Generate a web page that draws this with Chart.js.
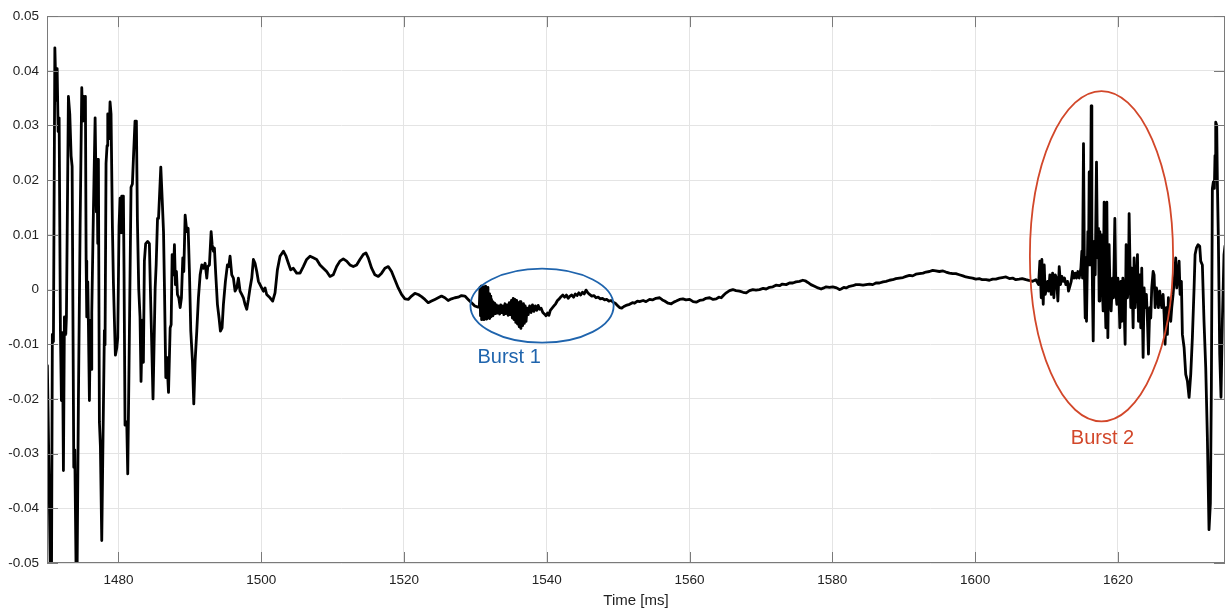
<!DOCTYPE html>
<html>
<head>
<meta charset="utf-8">
<script src="https://cdn.jsdelivr.net/npm/chart.js@4.4.1/dist/chart.umd.min.js"></script>
<style>
html,body{margin:0;padding:0;background:#fff;}
canvas{display:block;}
</style>
</head>
<body>
<canvas id="c" width="1225" height="614"></canvas>
<script>
// ---------- DATA ----------
// Segment 1: ring-down at the start
const ringTimes = [1470.05,1470.3,1470.5,1470.62,1470.75,1470.9,1471.1,1471.28,1471.42,1471.56,1471.7,1471.88,1472.02,1472.16,1472.3,1472.44,1472.63,1472.72,1473.0,1473.19,1473.38,1473.52,1473.75,1473.89,1474.08,1474.22,1474.4,1474.64,1474.87,1475.0,1475.15,1475.29,1475.38,1475.48,1475.57,1475.71,1475.8,1475.94,1476.08,1476.18,1476.27,1476.5,1476.74,1476.92,1477.01,1477.11,1477.2,1477.34,1477.48,1477.67,1477.85,1478.04,1478.13,1478.27,1478.41,1478.51,1478.69,1478.83,1478.97,1479.16,1479.3,1479.44,1479.58,1479.77,1479.91,1480.09,1480.23,1480.37,1480.47,1480.7,1480.79,1480.93,1481.17,1481.31,1481.49,1481.77,1481.96,1482.1,1482.33,1482.52,1482.66,1482.85,1483.03,1483.17,1483.36,1483.5,1483.64,1483.82,1484.1,1484.34,1484.48,1484.66,1484.85];
const ringValues = [-0.0139,-0.035,-0.056,-0.056,-0.0082,-0.0095,0.0442,0.0346,0.0404,0.0289,0.0314,-0.0075,-0.0203,-0.0079,-0.0331,-0.005,-0.0082,-0.005,0.0353,0.0321,0.0244,0.0225,-0.0325,-0.0293,-0.0523,-0.051,-0.0203,0.0116,0.0369,0.0308,0.0353,0.0308,0.0353,0.0052,-0.005,0.0014,-0.0063,-0.0203,-0.0056,-0.0146,-0.0043,0.0142,0.0314,0.0142,0.0238,0.0084,0.0238,-0.0242,-0.0286,-0.0459,-0.0267,-0.0075,-0.0101,0.0231,0.0263,0.0321,0.0276,0.0343,0.0321,0.0116,0.0014,-0.0056,-0.012,-0.0107,-0.0088,0.0116,0.0167,0.0104,0.0171,0.0171,0.0033,-0.0248,-0.0242,-0.0337,-0.0139,0.0187,0.0193,0.0238,0.0308,0.0308,0.0129,0.0001,-0.005,-0.0168,-0.0056,-0.0133,0.0052,0.0084,0.0088,0.0084,0.0001,-0.0095,-0.020];

// Segment 2: decaying oscillation and slow plateau
const calmTimes = [1485.15,1485.29,1485.48,1485.62,1485.94,1486.13,1486.32,1486.46,1486.64,1486.78,1487.02,1487.25,1487.39,1487.53,1487.71,1487.85,1487.99,1488.13,1488.27,1488.46,1488.65,1488.83,1489.02,1489.16,1489.35,1489.58,1489.77,1489.95,1490.14,1490.37,1490.56,1490.75,1490.98,1491.21,1491.45,1491.68,1491.91,1492.15,1492.38,1492.52,1492.75,1492.99,1493.13,1493.31,1493.45,1493.64,1493.87,1494.1,1494.29,1494.52,1494.71,1494.99,1495.27,1495.46,1495.64,1495.88,1496.11,1496.34,1496.58,1496.81,1497.04,1497.28,1497.51,1497.74,1497.98,1498.21,1498.44,1498.68,1498.91,1499.14,1499.38,1499.61,1499.84,1500.07,1500.31,1500.54,1500.77,1501.24,1501.61,1501.94,1502.27,1502.64,1503.11,1503.48,1503.81,1504.13,1504.5,1504.97,1505.44,1505.9,1506.37,1506.84,1507.3,1507.77,1508.24,1508.7,1509.17,1509.64,1510.1,1510.57,1511.03,1511.5,1511.97,1512.43,1512.9,1513.37,1513.83,1514.3,1514.67,1515.0,1515.47,1515.93,1516.4,1516.87,1517.33,1517.8,1518.26,1518.73,1519.2,1519.66,1520.13,1520.6,1521.06,1521.53,1522.0,1522.46,1522.93,1523.4,1523.86,1524.33,1524.79,1525.26,1525.73,1526.19,1526.66,1527.13,1527.59,1528.06,1528.53,1528.99,1529.46,1529.92,1530.39];
const calmValues = [0.0003,0.0045,0.0130,0.0130,0.0224,0.0167,0.0106,-0.0003,-0.0161,-0.0124,-0.0188,-0.0070,-0.0064,0.0064,0.0027,0.0082,0.0009,0.0033,-0.0009,-0.0015,-0.0033,-0.0015,0.0058,0.0033,0.0136,0.0106,0.0112,0.0033,-0.0076,-0.0130,-0.0209,-0.0130,-0.0076,-0.0015,0.0027,0.0045,0.0039,0.0048,0.0021,0.0042,0.0045,0.0106,0.0082,0.0070,0.0076,0.0027,-0.0027,-0.0052,-0.0076,-0.0070,-0.0027,0.0015,0.0045,0.0042,0.0061,0.0027,0.0021,-0.0003,0.0003,0.0021,-0.0003,-0.0009,-0.0015,-0.0027,-0.0036,-0.0018,0.0003,0.0021,0.0055,0.0048,0.0033,0.0015,0.0009,0.0003,-0.0003,0.0003,-0.0009,-0.0015,-0.0021,-0.0006,0.0036,0.0061,0.0070,0.0061,0.0048,0.0036,0.0039,0.0030,0.0030,0.0042,0.0055,0.0061,0.0058,0.0055,0.0045,0.0039,0.0033,0.0024,0.0027,0.0042,0.0052,0.0056,0.0052,0.0045,0.0042,0.0045,0.0055,0.0064,0.0067,0.0058,0.0039,0.0027,0.0024,0.0030,0.0039,0.0042,0.0033,0.0018,0.0003,-0.0009,-0.0017,-0.0018,-0.0012,-0.0007,-0.0009,-0.0013,-0.0018,-0.0024,-0.0021,-0.0018,-0.0015,-0.0012,-0.0015,-0.0020,-0.0017,-0.0015,-0.0014,-0.0011,-0.0012,-0.0018,-0.0024,-0.0030,-0.0032];

// Segment 3: Burst 1
const burst1Times = [1530.55,1530.65,1530.72,1530.8,1530.88,1530.96,1531.04,1531.12,1531.2,1531.28,1531.36,1531.44,1531.52,1531.6,1531.68,1531.76,1531.84,1531.92,1532.0,1532.08,1532.16,1532.26,1532.36,1532.46,1532.58,1532.7,1532.82,1532.95,1533.1,1533.25,1533.4,1533.55,1533.7,1533.85,1534.0,1534.15,1534.3,1534.45,1534.6,1534.75,1534.9,1535.05,1535.18,1535.3,1535.42,1535.54,1535.66,1535.78,1535.9,1536.02,1536.14,1536.26,1536.38,1536.5,1536.62,1536.74,1536.86,1536.98,1537.1,1537.25,1537.4,1537.6,1537.8,1538.0,1538.2,1538.4,1538.6,1538.8,1539.0,1539.2,1539.45,1539.7,1539.9,1540.1,1540.3,1540.5,1540.75,1541.0,1541.25,1541.5,1541.75,1542.0,1542.25,1542.5,1542.75,1543.0,1543.25,1543.5,1543.75,1544.0,1544.25,1544.5,1544.75,1545.0,1545.25,1545.5,1545.75,1546.0,1546.3,1546.6,1546.9,1547.2,1547.5,1547.8,1548.1,1548.4,1548.7,1549.0,1549.3,1549.6,1549.9,1550.2,1550.5,1550.8,1551.1];
const burst1Values = [-0.0032,0.0004,-0.0048,0.0006,-0.0055,-0.0002,-0.0052,0.0005,-0.0055,0.0002,-0.0050,0.0006,-0.0054,-0.0004,-0.0052,0.0004,-0.0050,-0.0008,-0.0053,-0.0012,-0.0050,-0.0018,-0.0048,-0.0022,-0.0045,-0.0025,-0.0044,-0.0028,-0.0043,-0.0030,-0.0045,-0.0028,-0.0042,-0.0030,-0.0046,-0.0026,-0.0044,-0.0028,-0.0047,-0.0024,-0.0046,-0.0020,-0.0052,-0.0016,-0.0055,-0.0018,-0.0060,-0.0020,-0.0063,-0.0024,-0.0068,-0.0022,-0.0071,-0.0028,-0.0066,-0.0026,-0.0062,-0.0030,-0.0058,-0.0034,-0.0046,-0.0030,-0.0042,-0.0028,-0.0040,-0.0030,-0.0038,-0.0029,-0.0036,-0.0034,-0.0042,-0.0045,-0.0048,-0.0043,-0.0047,-0.0038,-0.0034,-0.0030,-0.0026,-0.0020,-0.0017,-0.0013,-0.0010,-0.0014,-0.0010,-0.0016,-0.0012,-0.0010,-0.0014,-0.0008,-0.0011,-0.0006,-0.0010,-0.0005,-0.0008,-0.0001,-0.0006,-0.0009,-0.0012,-0.0011,-0.0015,-0.0014,-0.0017,-0.0016,-0.0019,-0.0018,-0.0021,-0.0020,-0.0023,-0.0025,-0.0029,-0.0033,-0.0034,-0.0031,-0.0029];

// Segment 4: slow drift between the bursts
const driftTimes = [1551.6,1552.0,1552.3,1552.7,1553.0,1553.5,1553.9,1554.4,1554.8,1555.3,1555.81,1556.2,1556.51,1557.0,1557.44,1557.8,1558.14,1558.6,1559.07,1559.5,1560.01,1560.5,1560.94,1561.4,1561.87,1562.3,1562.81,1563.3,1563.74,1564.1,1564.44,1564.8,1565.14,1565.6,1566.07,1566.5,1567.0,1567.5,1567.94,1568.4,1568.87,1569.3,1569.8,1570.3,1570.74,1571.2,1571.67,1572.1,1572.6,1573.0,1573.53,1574.0,1574.47,1574.9,1575.4,1575.87,1576.2,1576.57,1577.0,1577.5,1578.0,1578.43,1578.8,1579.13,1579.6,1580.06,1580.6,1581.0,1581.23,1581.6,1581.93,1582.4,1582.86,1583.3,1583.8,1584.3,1584.73,1585.2,1585.66,1586.1,1586.6,1587.1,1587.53,1588.0,1588.46,1588.9,1589.39,1589.9,1590.33,1590.8,1591.26,1591.7,1592.19,1592.7,1593.12,1593.6,1594.06,1594.5,1594.99,1595.5,1595.92,1596.4,1596.86,1597.3,1597.79,1598.3,1598.72,1599.2,1599.65,1600.1,1600.59,1601.0,1601.52,1602.0,1602.45,1602.9,1603.38,1603.8,1604.32,1604.8,1605.25,1605.7,1606.18,1606.6,1607.12,1607.5,1608.05,1608.51,1608.89];
const driftValues = [-0.0027,-0.0024,-0.0025,-0.0021,-0.0022,-0.0020,-0.0022,-0.0018,-0.0019,-0.0016,-0.0015,-0.0019,-0.0021,-0.0025,-0.0026,-0.0023,-0.0021,-0.0018,-0.0017,-0.0019,-0.0018,-0.0022,-0.0023,-0.0020,-0.0019,-0.0016,-0.0015,-0.0018,-0.0017,-0.0014,-0.0015,-0.0010,-0.0006,-0.0002,0.0000,-0.0002,-0.0003,-0.0005,-0.0006,-0.0002,0.0000,-0.0001,0.0000,0.0002,0.0001,0.0004,0.0005,0.0008,0.0007,0.0010,0.0009,0.0012,0.0012,0.0014,0.0015,0.0017,0.0016,0.0013,0.0009,0.0006,0.0003,0.0001,0.0003,0.0005,0.0004,0.0005,0.0003,0.0000,0.0001,0.0004,0.0003,0.0006,0.0007,0.0009,0.0009,0.0008,0.0009,0.0010,0.0009,0.0012,0.0012,0.0014,0.0015,0.0017,0.0018,0.0020,0.0021,0.0022,0.0024,0.0026,0.0025,0.0028,0.0029,0.0030,0.0032,0.0033,0.0035,0.0034,0.0033,0.0034,0.0032,0.0030,0.0029,0.0029,0.0027,0.0025,0.0023,0.0022,0.0021,0.0019,0.0020,0.0018,0.0018,0.0017,0.0019,0.0019,0.0021,0.0022,0.0023,0.0020,0.0021,0.0018,0.0019,0.0020,0.0018,0.0017,0.0015,0.0018,0.0009];

// Segment 5: Burst 2
const burst2Times = [1609.07,1609.26,1609.35,1609.54,1609.68,1609.82,1610.01,1610.15,1610.29,1610.47,1610.66,1610.85,1611.03,1611.22,1611.4,1611.59,1611.78,1611.96,1612.15,1612.34,1612.52,1612.71,1612.94,1613.08,1613.27,1613.46,1613.64,1613.83,1614.02,1614.2,1614.39,1614.58,1614.81,1614.95,1615.04,1615.18,1615.32,1615.42,1615.51,1615.6,1615.79,1615.88,1615.98,1616.12,1616.26,1616.35,1616.44,1616.54,1616.68,1616.82,1617.0,1617.14,1617.28,1617.37,1617.47,1617.61,1617.75,1617.84,1617.93,1618.07,1618.21,1618.31,1618.45,1618.59,1618.68,1618.77,1618.91,1619.05,1619.24,1619.38,1619.57,1619.71,1619.85,1619.99,1620.13,1620.27,1620.41,1620.55,1620.69,1620.83,1621.01,1621.15,1621.34,1621.48,1621.57,1621.8,1621.94,1622.13,1622.27,1622.41,1622.6,1622.74,1622.88,1623.06,1623.2,1623.34,1623.53,1623.67,1623.81,1623.99,1624.14,1624.28,1624.46,1624.6,1624.74,1624.93,1625.07,1625.21,1625.4,1625.53,1625.67,1625.86,1626.0,1626.14,1626.33,1626.47,1626.61,1626.79,1626.93,1627.07,1627.26,1627.4,1627.54,1627.73,1627.91,1628.1,1628.24,1628.38,1628.57,1628.71,1628.89];
const burst2Values = [0.0052,-0.0015,0.0055,-0.0027,0.0045,-0.0009,0.0003,0.0015,-0.0003,0.0027,-0.0009,0.0030,-0.0015,0.0027,0.0021,-0.0021,0.0042,0.0009,0.0024,0.0015,0.0021,0.0009,0.0015,-0.0003,0.0006,0.0015,0.0033,0.0021,0.0030,0.0021,0.0033,0.0021,0.0039,0.0070,0.0021,0.0267,0.0015,-0.0052,0.0058,-0.0058,0.0106,0.0045,0.0215,0.0045,0.0336,0.0106,-0.0003,-0.0094,0.0088,0.0027,0.0233,0.0058,0.0112,-0.0021,0.0106,0.0033,0.0100,-0.0003,-0.0039,0.0160,-0.0015,-0.0070,0.0160,-0.0088,0.0009,0.0082,-0.0015,-0.0039,0.0021,-0.0015,0.0130,-0.0003,-0.0027,0.0021,-0.0003,-0.0070,0.0015,-0.0058,0.0021,-0.0015,-0.0100,0.0082,-0.0015,0.0009,0.0139,-0.0033,0.0039,-0.0070,0.0058,-0.0033,0.0015,0.0064,-0.0058,0.0027,-0.0070,0.0039,-0.0124,0.0003,-0.0033,-0.0009,-0.0058,-0.0118,-0.0033,-0.0052,0.0003,0.0033,0.0027,-0.0033,0.0003,-0.0009,-0.0033,-0.0003,-0.0021,-0.0033,-0.0009,-0.0045,-0.0100,-0.0033,-0.0082,-0.0015,-0.0045,-0.0058,-0.0033,-0.0009,0.0021,0.0058,0.0003,0.0021,0.0052,-0.0009,0.0015];

// Segment 6: large oscillation at the end
const tailTimes = [1629.03,1629.27,1629.5,1629.73,1629.97,1630.2,1630.43,1630.67,1630.81,1631.0,1631.23,1631.46,1631.6,1631.83,1632.06,1632.3,1632.53,1632.76,1632.95,1633.09,1633.23,1633.37,1633.51,1633.6,1633.7,1633.84,1633.93,1634.07,1634.26,1634.44,1634.63,1634.86,1635.0];
const tailValues = [-0.0082,-0.0106,-0.0155,-0.0167,-0.0197,-0.0155,-0.0088,0.0003,0.0064,0.0076,0.0082,0.0079,0.0052,0.0045,-0.0058,-0.0142,-0.0270,-0.0439,-0.0391,-0.0179,0.0185,0.0197,0.0185,0.0245,0.0306,0.0300,0.0197,0.0094,-0.0118,-0.0197,-0.0058,0.0064,0.0080];

// Axis ticks
const xTickValues = [1480,1500,1520,1540,1560,1580,1600,1620];
const yTickValues = [-0.05,-0.04,-0.03,-0.02,-0.01,0,0.01,0.02,0.03,0.04,0.05];
const yTickLabels = ['-0.05','-0.04','-0.03','-0.02','-0.01','0','0.01','0.02','0.03','0.04','0.05'];

// Annotations (in data coordinates)
const burstNotes = [
  {label:'Burst 1', cx:1539.34, cy:-0.00295, rx:10.03, ry:0.00676, tx:1534.73, ty:-0.0125, color:'#1f64ad'},
  {label:'Burst 2', cx:1617.7, cy:0.0061, rx:10.03, ry:0.0302, tx:1617.84, ty:-0.0273, color:'#d2472a'}
];

// ---------- BUILD ----------
const allTimes = [].concat(ringTimes, calmTimes, burst1Times, driftTimes, burst2Times, tailTimes);
const allValues = [].concat(ringValues, calmValues, burst1Values, driftValues, burst2Values, tailValues);
const points = allTimes.map((t,i)=>({x:t, y:allValues[i]}));

const frameColor = '#7a7a7a';
const boxPlugin = {
  id:'matlabBox',
  afterDatasetsDraw(chart){
    const {ctx, chartArea:a, scales:{x,y}} = chart;
    ctx.save();
    // ellipses + labels
    burstNotes.forEach(n=>{
      const px = x.getPixelForValue(n.cx), py = y.getPixelForValue(n.cy);
      const rx = Math.abs(x.getPixelForValue(n.cx+n.rx)-px);
      const ry = Math.abs(y.getPixelForValue(n.cy+n.ry)-py);
      ctx.beginPath();
      ctx.ellipse(px, py, rx, ry, 0, 0, Math.PI*2);
      ctx.strokeStyle = n.color; ctx.lineWidth = 1.8; ctx.stroke();
      ctx.fillStyle = n.color;
      ctx.font = '20px "Liberation Sans", Arial, sans-serif';
      ctx.textAlign='center'; ctx.textBaseline='middle';
      ctx.fillText(n.label, x.getPixelForValue(n.tx), y.getPixelForValue(n.ty));
    });
    // box and inward ticks
    ctx.strokeStyle = frameColor; ctx.lineWidth = 1;
    ctx.strokeRect(a.left+0.5, a.top+0.5, a.right-a.left-1, a.bottom-a.top-1);
    ctx.beginPath();
    const tl = 11;
    xTickValues.forEach(v=>{
      const p = Math.round(x.getPixelForValue(v))+0.5;
      ctx.moveTo(p, a.bottom); ctx.lineTo(p, a.bottom-tl);
      ctx.moveTo(p, a.top); ctx.lineTo(p, a.top+tl);
    });
    yTickValues.forEach(v=>{
      const p = Math.round(y.getPixelForValue(v))+0.5;
      ctx.moveTo(a.left, p); ctx.lineTo(a.left+tl, p);
      ctx.moveTo(a.right, p); ctx.lineTo(a.right-tl, p);
    });
    ctx.stroke();
    ctx.restore();
  }
};

const tickFont = {family:'"Liberation Sans", Arial, sans-serif', size:13.5};
new Chart(document.getElementById('c'), {
  type:'line',
  data:{datasets:[{
    data:points,
    borderColor:'#000000',
    borderWidth:2.8,
    pointRadius:0,
    tension:0,
    borderJoinStyle:'round',
    borderCapStyle:'round'
  }]},
  options:{
    responsive:false,
    animation:false,
    devicePixelRatio:1,
    layout:{padding:{top:13,left:0,right:0,bottom:0}},
    plugins:{legend:{display:false}, tooltip:{enabled:false}},
    scales:{
      x:{
        type:'linear', min:1470, max:1635,
        afterBuildTicks(s){ s.ticks = xTickValues.map(v=>({value:v})); },
        afterFit(s){ s.height = 51; },
        ticks:{font:tickFont, color:'#222', padding:9, maxRotation:0, callback:(v)=>String(v)},
        grid:{color:'#e4e4e4', drawTicks:false, lineWidth:1},
        border:{display:false},
        title:{display:true, text:'Time [ms]', color:'#222', font:{family:'"Liberation Sans", Arial, sans-serif', size:15}, padding:{top:0,bottom:4}}
      },
      y:{
        type:'linear', min:-0.05, max:0.05,
        afterBuildTicks(s){ s.ticks = yTickValues.map(v=>({value:v})); },
        afterFit(s){ s.width = 47; },
        ticks:{font:tickFont, color:'#222', padding:8, callback:(v,i)=>yTickLabels[i]},
        grid:{color:'#e4e4e4', drawTicks:false, lineWidth:1},
        border:{display:false}
      }
    }
  },
  plugins:[boxPlugin]
});
</script>
</body>
</html>
